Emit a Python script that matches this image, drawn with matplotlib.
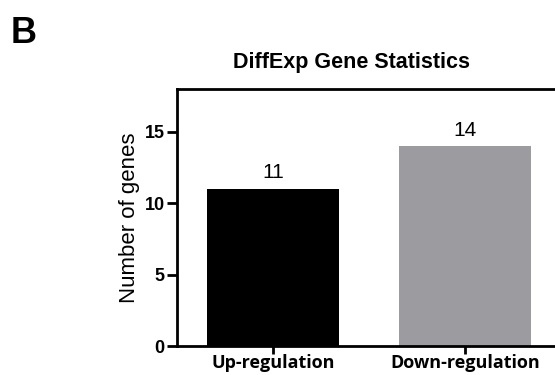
import matplotlib
matplotlib.use("Agg")
import matplotlib.pyplot as plt

plt.rcParams.update({
    "font.family": ["Liberation Sans", "DejaVu Sans"],
    "axes.linewidth": 2.0,
})

categories = ["Up-regulation", "Down-regulation"]
counts = [11, 14]
colors = ["#000000", "#9c9b9f"]

fig = plt.figure(figsize=(5.55, 3.75), dpi=100)
ax = fig.add_axes([0.319, 0.077, 0.692, 0.686])

x = list(range(len(categories)))
bars = ax.bar(x, counts, width=0.69, color=colors, edgecolor="none")
for b, v in zip(bars, counts):
    ax.text(b.get_x() + b.get_width() / 2, v + 0.45, str(v),
            ha="center", va="bottom", fontsize=15)

ax.set_xlim(-0.5, 1.5)
ax.set_ylim(0, 18)
ax.set_yticks([0, 5, 10, 15])
ax.set_xticks(x)
ax.set_xticklabels(categories, fontsize=13, fontweight="bold",
                   family=["Open Sans", "DejaVu Sans"])
for t in ax.get_yticklabels():
    t.set_fontsize(13)
    t.set_fontweight("bold")
ax.tick_params(axis="y", length=7, width=2, pad=2)
ax.tick_params(axis="x", length=6, width=2, pad=0)
ax.spines["right"].set_visible(False)
ax.set_ylabel("Number of genes", fontsize=16, labelpad=3)

fig.text(0.634, 0.819, "DiffExp Gene Statistics", fontsize=15.5,
         fontweight="bold", ha="center", va="baseline")
fig.text(0.02, 0.885, "B", fontsize=26, fontweight="bold", ha="left", va="baseline")

fig.savefig("out.png", dpi=100)
